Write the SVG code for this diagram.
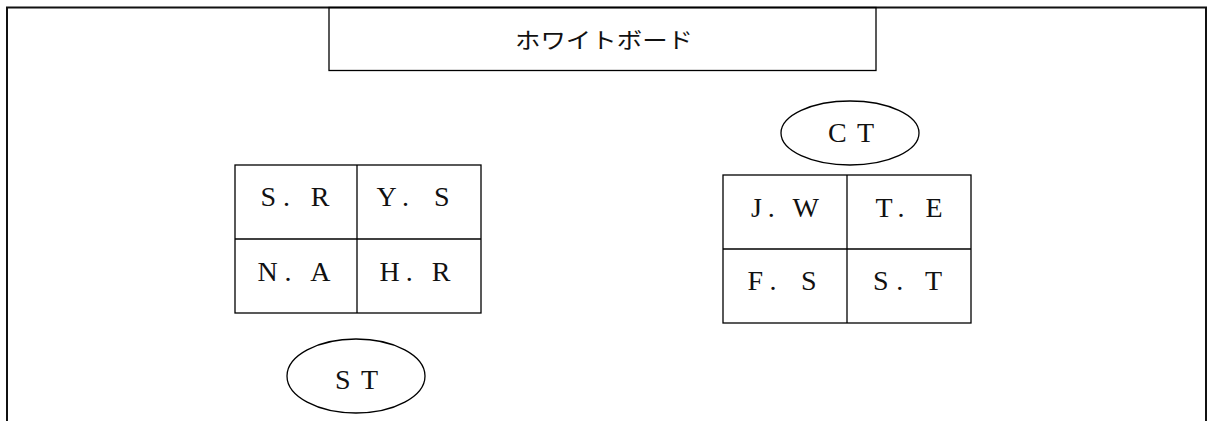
<svg xmlns="http://www.w3.org/2000/svg" width="1208" height="421" viewBox="0 0 1208 421">
<style>
.ln{fill:none;stroke:#000;stroke-width:1.3}
.frame{fill:none;stroke:#111;stroke-width:2}
.t{font-family:"Liberation Serif","Noto Sans CJK JP",serif;font-size:28px;fill:#111;text-anchor:middle}
.jp{font-family:"Noto Sans CJK JP",serif;font-size:22px;fill:#111;text-anchor:middle;font-weight:400}
</style>
<rect width="1208" height="421" fill="#fff"/>
<g id="room">
<path class="frame" d="M7,430 V7.5 H1206 V430"/>
</g>
<g id="whiteboard">
<rect class="ln" x="329" y="7.5" width="547" height="63"/>
<text class="jp" x="604" y="48" textLength="178" lengthAdjust="spacingAndGlyphs">ホワイトボード</text>
</g>
<g id="left-table">
<rect class="ln" x="235" y="165" width="246" height="148"/>
<line class="ln" x1="357" y1="165" x2="357" y2="313"/>
<line class="ln" x1="235" y1="239" x2="481" y2="239"/>
<text class="t" x="295" y="206" textLength="69">S. R</text>
<text class="t" x="413" y="206" textLength="73">Y. S</text>
<text class="t" x="294" y="281" textLength="73">N. A</text>
<text class="t" x="415" y="281" textLength="71">H. R</text>
</g>
<g id="right-table">
<rect class="ln" x="723" y="175" width="248" height="148"/>
<line class="ln" x1="847" y1="175" x2="847" y2="323"/>
<line class="ln" x1="723" y1="249" x2="971" y2="249"/>
<text class="t" x="785" y="217" textLength="68">J. W</text>
<text class="t" x="909" y="217" textLength="67">T. E</text>
<text class="t" x="782" y="290" textLength="69">F. S</text>
<text class="t" x="907.5" y="290" textLength="69">S. T</text>
</g>
<g id="ct">
<ellipse class="ln" cx="850" cy="133" rx="69" ry="32"/>
<text class="t" x="851" y="142" textLength="46">CT</text>
</g>
<g id="st">
<ellipse class="ln" cx="356" cy="376" rx="69" ry="37"/>
<text class="t" x="356.5" y="389" textLength="43">ST</text>
</g>
<g id="connectors"></g>
</svg>
